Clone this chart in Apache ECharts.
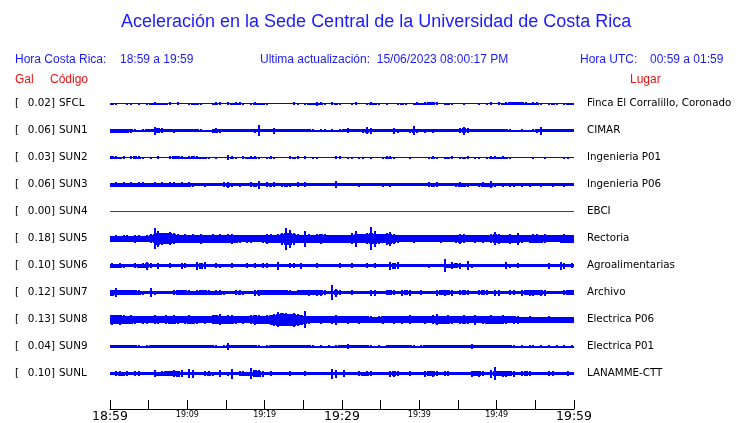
<!DOCTYPE html>
<html><head><meta charset="utf-8">
<script src="https://cdn.jsdelivr.net/npm/echarts@6/dist/echarts.min.js"></script>
<style>html,body{margin:0;padding:0;background:#fff}#c{width:740px;height:423px}</style>
</head><body><div id="c"></div>
<script>
// ---- data ----
const codes  = ['SFCL','SUN1','SUN2','SUN3','SUN4','SUN5','SUN6','SUN7','SUN8','SUN9','SUNL'];
const galMax = ['0.02','0.06','0.03','0.06','0.00','0.18','0.10','0.12','0.13','0.04','0.10'];
const places = ['Finca El Corralillo, Coronado','CIMAR','Ingenieria P01','Ingenieria P06','EBCI','Rectoria','Agroalimentarias','Archivo','Electrica P06','Electrica P01','LANAMME-CTT'];
const tickLabels = ['18:59','19:09','19:19','19:29','19:39','19:49','19:59'];
const binMinutes = 0.5; // each envelope value covers half a minute, 18:59 -> 19:59

// peak-to-peak envelope of each record, per half-minute bin
const envSFCL = [2,2,1,1,2,2,1,2,1,2, 2,3,2,2,2,3,1,3,1,1, 2,2,2,2,1,1,2,3,3,1, 3,2,3,3,2,1,2,3,2,2, 2,1,1,1,1,1,1,3,2,1, 2,2,2,4,3,2,1,3,2,2,
                 1,1,2,3,1,1,2,3,2,2, 1,2,1,1,2,2,2,1,2,3, 2,3,3,3,3,1,2,2,2,1, 1,2,1,1,1,2,1,2,3,1, 3,2,3,3,3,3,3,3,2,3, 3,2,1,2,2,2,1,2,2,2];
const envSUN1 = [4,4,4,4,4,4,3,2,3,3, 3,8,5,5,3,3,4,3,3,3, 3,3,3,3,2,2,4,5,4,3, 3,3,3,3,3,3,3,4,11,3, 3,3,6,3,3,3,3,3,3,3, 3,3,3,2,3,3,2,3,2,3,
                 3,5,3,3,3,4,7,6,3,3, 3,3,3,6,4,3,3,4,9,4, 3,4,3,4,3,3,3,3,3,3, 5,8,5,3,3,3,3,3,3,3, 3,3,3,3,2,2,3,2,2,3, 4,8,3,3,3,3,3,3,3,3];
const envSUN2 = [3,3,2,3,1,3,3,3,2,1, 2,1,3,1,1,3,3,3,3,2, 3,3,3,2,2,2,1,2,1,1, 5,3,2,1,3,2,3,3,2,1, 2,3,2,1,1,1,3,2,3,1, 3,1,2,2,1,1,1,1,3,3,
                 1,2,2,1,2,2,1,2,1,1, 2,3,3,2,1,1,1,2,1,1, 1,1,2,3,2,1,2,2,3,1, 2,2,3,1,2,2,1,2,3,3, 2,3,2,2,1,1,1,1,1,2, 1,1,2,1,1,1,1,2,2,1];
const envSUN3 = [4,5,4,5,4,5,4,5,5,4, 4,5,4,5,4,5,5,4,5,4, 5,4,3,3,4,3,3,3,3,5, 6,4,3,4,3,3,5,4,8,3, 5,4,5,3,4,4,4,3,5,3, 5,3,3,3,3,3,3,3,7,3,
                 3,3,3,3,4,3,3,3,3,3, 4,3,4,3,3,3,3,3,3,3, 3,3,5,4,5,3,3,3,3,4, 5,4,4,3,3,4,5,4,7,4, 3,4,3,4,4,3,4,3,4,3, 3,4,3,3,4,3,3,4,3,3];
const envSUN4 = [0,0,0,0,0,0,0,0,0,0, 0,0,0,0,0,0,0,0,0,0, 0,0,0,0,0,0,0,0,0,0, 0,0,0,0,0,0,0,0,0,0, 0,0,0,0,0,0,0,0,0,0, 0,0,0,0,0,0,0,0,0,0,
                 0,0,0,0,0,0,0,0,0,0, 0,0,0,0,0,0,0,0,0,0, 0,0,0,0,0,0,0,0,0,0, 0,0,0,0,0,0,0,0,0,0, 0,0,0,0,0,0,0,0,0,0, 0,0,0,0,0,0,0,0,0,0];
const envSUN5 = [6,7,6,7,7,6,8,7,6,7, 9,21,16,12,11,13,11,9,8,9, 8,9,8,10,8,8,9,8,9,8, 9,10,8,8,7,8,8,7,7,8, 10,9,8,9,12,22,18,12,9,8, 16,9,8,9,10,9,8,8,8,8,
                 8,8,11,16,9,9,11,23,16,10, 9,12,14,10,8,7,7,7,8,7, 7,7,7,7,7,8,7,7,7,8, 10,9,7,7,8,7,8,7,9,13, 10,8,8,10,8,12,8,7,8,9, 9,8,9,7,7,7,8,9,8,8];
const envSUN6 = [5,4,5,4,3,3,5,4,5,8, 5,3,6,3,3,5,3,3,6,5, 3,3,8,6,7,3,3,5,4,3, 3,5,3,3,3,5,3,5,3,5, 5,3,3,8,3,3,5,5,3,6, 3,3,3,5,3,3,3,3,3,5,
                 3,3,5,3,3,3,5,3,5,3, 3,3,8,6,7,3,3,3,3,3, 3,3,4,3,3,3,13,4,7,5, 6,3,9,4,3,3,3,3,3,3, 3,3,7,4,3,5,3,3,3,3, 3,3,3,6,3,3,8,6,3,5];
const envSUN7 = [6,9,5,5,5,5,5,5,4,3, 9,4,3,3,3,3,5,5,5,5, 5,4,5,5,5,5,4,5,5,4, 3,3,5,5,4,3,3,6,6,5, 5,5,5,5,5,5,5,4,5,5, 5,6,5,6,6,5,3,15,8,5,
                 3,3,5,3,3,3,3,6,6,3, 3,5,5,5,3,6,5,6,3,3, 5,3,3,3,6,5,6,5,6,3, 5,5,5,3,3,5,5,5,3,6, 6,3,3,5,5,3,6,5,6,6, 5,6,6,3,3,3,3,5,5,5];
const envSUN8 = [10,9,10,9,8,9,8,7,8,8, 7,9,8,7,9,8,9,8,7,8, 9,8,8,7,8,7,9,9,11,8, 9,9,8,7,8,7,9,10,9,8, 9,10,12,15,13,13,12,14,12,10, 17,8,7,7,8,7,7,8,10,7,
                 7,8,7,7,8,7,7,7,6,7, 8,7,7,8,7,8,7,9,7,7, 7,8,7,9,11,8,8,9,8,7, 8,9,8,7,10,7,8,8,9,8, 8,9,8,7,8,8,6,6,7,6, 6,6,6,7,6,6,6,6,6,6];
const envSUN9 = [3,3,3,3,3,3,3,3,2,3, 3,3,3,3,3,3,3,3,3,3, 3,3,3,3,3,3,3,3,2,3, 7,3,3,3,3,3,3,3,3,2, 3,3,3,3,3,3,3,3,3,3, 3,3,3,2,3,2,3,2,3,3,
                 3,5,3,3,3,3,3,3,2,3, 2,3,3,3,3,3,3,3,3,2, 3,3,3,3,3,3,3,3,3,3, 3,3,3,5,3,3,3,3,3,3, 3,3,3,3,3,2,3,2,3,3, 2,3,2,3,2,3,2,3,2,3];
const envSUNL = [3,5,5,4,5,3,5,5,3,3, 3,7,4,5,5,5,7,6,7,3, 9,8,3,3,5,5,4,3,7,3, 4,10,3,5,5,4,11,7,7,6, 3,5,3,3,3,3,5,3,3,3, 5,3,3,3,3,3,3,10,8,3,
                 7,3,3,3,5,4,5,5,3,3, 3,3,6,6,5,3,3,5,3,3, 3,6,5,6,5,3,5,5,3,3, 3,3,3,6,5,6,5,3,8,13, 5,6,6,5,6,3,5,5,5,3, 3,3,3,5,5,3,3,3,5,3];
const envelopes = [envSFCL,envSUN1,envSUN2,envSUN3,envSUN4,envSUN5,envSUN6,envSUN7,envSUN8,envSUN9,envSUNL];

// ---- chart ----
const BLUE = '#0000ff', TEXTBLUE = '#1a1aff', RED = '#ee1111';
const chart = echarts.init(document.getElementById('c'), null, {renderer:'canvas'});

function makeRender(flat) {
  return function (params, api) {
    const t0 = api.value(0), t1 = api.value(1), row = api.value(2), amp = api.value(3), floorAmp = api.value(4);
    const a = api.coord([t0, row]), b = api.coord([t1, row]);
    const band = api.size([0, 1])[1];
    const k = band / 27;
    const cy = a[1];
    const x0 = Math.round(a[0]), x1 = Math.round(b[0]);
    const fill = flat ? '#dd0000' : BLUE;
    const hFloor = Math.max(1, Math.round(floorAmp * k));
    const children = [{type:'rect', shape:{x:x0, y:Math.round(cy - hFloor/2), width:Math.max(1, x1 - x0), height:hFloor}, style:{fill}}];
    const h = Math.round(amp * k);
    if (h > hFloor) {
      const xm = Math.round((x0 + x1) / 2) - 1;
      children.push({type:'rect', shape:{x:xm, y:Math.round(cy - h/2), width:2, height:h}, style:{fill}});
    }
    return {type:'group', children};
  };
}

const series = envelopes.map((env, row) => {
  const flat = env.every(v => v === 0);
  return {
    type:'custom', name: codes[row], silent:true, animation:false,
    renderItem: makeRender(flat),
    encode:{x:[0,1], y:2},
    // 5th dimension: the part of the envelope shared with neighbouring bins (drawn full width)
    data: env.map((v, j) => [j*binMinutes, (j+1)*binMinutes, row, v,
      Math.min(v, env[j-1] === undefined ? v : env[j-1], env[j+1] === undefined ? v : env[j+1])])
  };
});

chart.setOption({
  animation:false,
  grid:{left:110, right:166, top:90, bottom:36},
  xAxis:{
    type:'value', min:0, max:60, interval:5, offset:22,
    axisLine:{show:true, lineStyle:{color:'#000', width:1}},
    axisTick:{show:true, inside:true, length:9, lineStyle:{color:'#000'}},
    splitLine:{show:false},
    axisLabel:{
      margin:1, showMinLabel:true, showMaxLabel:true, hideOverlap:false,
      formatter: v => {
        if (v % 10 !== 0) return '';
        const s = tickLabels[v/10];
        return v % 30 === 0 ? '{big|' + s + '}' : '{small|' + s + '}';
      },
      rich:{
        big:{fontFamily:'DejaVu Sans', fontSize:12.5, lineHeight:13, color:'#000'},
        small:{fontFamily:'DejaVu Sans', fontSize:8, lineHeight:9, color:'#000'}
      }
    }
  },
  yAxis:{
    type:'category', data:codes, inverse:true,
    axisLine:{show:false}, axisTick:{show:false}, axisLabel:{show:false}, splitLine:{show:false}
  },
  series: series
});

// ---- texts ----
const g = [];
function txt(text, x, y, color, size, family, align) {
  g.push({type:'text', silent:true, style:{text, x, y, fill:color,
    font: size + 'px "' + family + '"', textAlign: align || 'left', textVerticalAlign:'middle'}});
}
txt('Aceleración en la Sede Central de la Universidad de Costa Rica', 121, 22, TEXTBLUE, 18, 'Liberation Sans');
txt('Hora Costa Rica:', 15, 60, TEXTBLUE, 12, 'Liberation Sans');
txt('18:59 a 19:59', 120, 60, TEXTBLUE, 12, 'Liberation Sans');
txt('Ultima actualización:  15/06/2023 08:00:17 PM', 260, 60, TEXTBLUE, 12, 'Liberation Sans');
txt('Hora UTC:', 580, 60, TEXTBLUE, 12, 'Liberation Sans');
txt('00:59 a 01:59', 650, 60, TEXTBLUE, 12, 'Liberation Sans');
txt('Gal', 15, 80, RED, 12, 'Liberation Sans');
txt('Código', 50, 80, RED, 12, 'Liberation Sans');
txt('Lugar', 630, 80, RED, 12, 'Liberation Sans');
codes.forEach((c, i) => {
  const y = chart.convertToPixel({yAxisIndex:0}, i);
  txt('[', 15, y, '#000', 10.4, 'DejaVu Sans');
  txt(galMax[i] + ']', 55, y, '#000', 10.4, 'DejaVu Sans', 'right');
  txt(c, 59, y, '#000', 10.4, 'DejaVu Sans');
  txt(places[i], 587, y, '#000', 10.3, 'DejaVu Sans');
});
chart.setOption({graphic: g});
</script>
</body></html>
